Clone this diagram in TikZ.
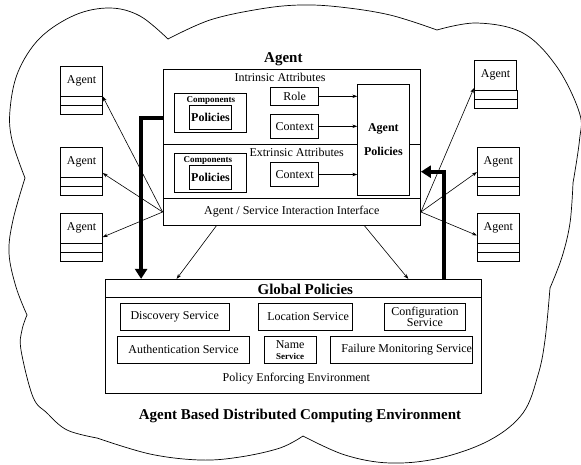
\documentclass[tikz,border=0pt]{standalone}
\usepackage{fontspec}
\setmainfont{Liberation Serif}
\usetikzlibrary{arrows.meta,calc}
\begin{document}
\begin{tikzpicture}[x=1pt,y=-1pt,
  reg/.style={font=\fontsize{12}{14}\selectfont},
  bld/.style={font=\fontsize{12}{14}\selectfont\bfseries},
  sbld/.style={font=\fontsize{9}{10}\selectfont\bfseries},
  big/.style={font=\fontsize{15}{17}\selectfont\bfseries},
  bx/.style={draw, line width=0.8pt, inner sep=0pt, fill=white},
  ln/.style={line width=0.8pt},
  cloudline/.style={line width=0.7pt},
  arr/.style={line width=0.6pt, -{Stealth[length=5pt,width=3.5pt]}},
  fat/.style={line width=4pt, -{Triangle[length=10pt,width=12pt]}}
]
\useasboundingbox (0,0) rectangle (581,464);

% cloud
\draw[cloudline] plot[smooth, tension=0.6] coordinates {(25,178) (12,140) (10,110) (18,72) (40,38) (75,15) (110,8) (140,16) (168,39)};
\draw[cloudline] plot[smooth, tension=0.6] coordinates {(168,39) (210,20) (260,9) (300,5) (340,7) (390,15) (437,30)};
\draw[cloudline] plot[smooth, tension=0.6] coordinates {(437,30) (477,23) (523,33) (557,67) (579.5,113) (579.5,140) (573,183)};
\draw[cloudline] plot[smooth, tension=0.6] coordinates {(573,183) (570,223) (562,257) (550,288)};
\draw[cloudline] plot[smooth, tension=0.6] coordinates {(550,288) (545,340) (538,375) (523,413) (490,440) (440,458) (390,463) (345,455) (303,436)};
\draw[cloudline] plot[smooth, tension=0.6] coordinates {(303,436) (280,448) (240,457) (200,460) (150,454) (97,438)};
\draw[cloudline] plot[smooth, tension=0.6] coordinates {(97,438) (67,430) (47,413) (33,397) (21,350) (22,330) (27,315)};
\draw[cloudline] plot[smooth, tension=0.6] coordinates {(27,315) (16,287) (9,253) (13,220) (25,178)};

% main agent
\node[big] (agtitle) at (283.4,59) {Agent};
\node[bx, minimum width=257.5pt, minimum height=75.3pt] (intr) at (291.75,106.65) {};
\node[bx, minimum width=257.5pt, minimum height=54.2pt] (extr) at (291.75,171.4) {};
\node[bx, minimum width=257.5pt, minimum height=27pt, reg] (iface) at (291.75,212) {Agent / Service Interaction Interface};
\node[reg] (intrlbl) at (280,77) {Intrinsic Attributes};
\node[reg] (extrlbl) at (296.7,152.7) {Extrinsic Attributes};

\node[bx, minimum width=72.4pt, minimum height=38.7pt] (comp1) at (210.5,112.65) {};
\node[sbld] (cl1) at (210.8,100.3) {Components};
\node[bx, minimum width=42.4pt, minimum height=24pt, bld] (pol1) at (210.5,117.3) {Policies};
\node[bx, minimum width=72.4pt, minimum height=39pt] (comp2) at (210.5,172.8) {};
\node[sbld] (cl2) at (207.8,160) {Components};
\node[bx, minimum width=42.4pt, minimum height=24pt, bld] (pol2) at (210.5,177.3) {Policies};

\node[bx, minimum width=48pt, minimum height=18pt, reg] (role) at (294.7,96.3) {Role};
\node[bx, minimum width=48pt, minimum height=24pt, reg] (ctx1) at (294.7,126.3) {Context};
\node[bx, minimum width=48pt, minimum height=24.4pt, reg] (ctx2) at (294.7,174.5) {Context};

\node[bx, minimum width=51.3pt, minimum height=111pt, bld, align=center] (ap) at (383.35,139.8) {Agent\\[10pt]Policies};

\draw[arr] (role.east) -- (role.east -| ap.west);
\draw[arr] (ctx1.east) -- (ctx1.east -| ap.west);
\draw[arr] (ctx2.east) -- (ctx2.east -| ap.west);

% other agents
\foreach \n/\cx/\cy/\w in {la1/81.5/81/41.6, la2/81.5/162.3/41.6, la3/81.5/228.3/41.6, ra1/495.5/75/42.4, ra2/498.3/162.3/42, ra3/498.3/228.3/42}{
  \node[bx, minimum width=\w pt, minimum height=30pt, reg] (\n) at (\cx,\cy) {Agent};
  \draw[ln] (\n.south west) rectangle ($(\n.south east)+(0,18)$);
  \draw[ln] ($(\n.south west)+(0,9)$) -- ($(\n.south east)+(0,9)$);
}

\draw[arr] (iface.west) -- (la1.south east);
\draw[arr] (iface.west) -- ($(la2.south east)+(0,-4.6)$);
\draw[arr] (iface.west) -- ($(la3.south east)+(0,-6.6)$);
\draw[arr] (iface.east) -- ($(ra1.south west)+(0,-2.3)$);
\draw[arr] (iface.east) -- ($(ra2.south west)+(0,-5.6)$);
\draw[arr] (iface.east) -- ($(ra3.south west)+(0,-8.3)$);

% global policies
\node[bx, minimum width=375.4pt, minimum height=114pt] (global) at (293.3,336.3) {};
\draw[ln] ($(global.north west)+(0,18)$) -- ($(global.north east)+(0,18)$);
\node[big] (gltitle) at (305.3,289.5) {Global Policies};
\node[bx, minimum width=108.6pt, minimum height=26.7pt, reg] (disc) at (174.7,316.65) {Discovery Service};
\node[bx, minimum width=93.8pt, minimum height=26.7pt, reg] (loc) at (305.1,316.65) {\hspace*{6pt}Location Service};
\node[bx, minimum width=81.5pt, minimum height=26.7pt, reg, align=center] (conf) at (424.95,316.65) {Configuration\\[-3pt]Service};
\node[bx, minimum width=132.2pt, minimum height=27.3pt, reg] (auth) at (183.6,349.65) {Authentication Service};
\node[bx, minimum width=51.8pt, minimum height=27.3pt, align=center] (name) at (290.1,349.65) {{\fontsize{12}{10}\selectfont Name}\\[-1pt]{\fontsize{9}{9}\selectfont\bfseries Service}};
\node[bx, minimum width=142.4pt, minimum height=27.3pt, reg] (fail) at (401.2,349.65) {\hspace*{11pt}Failure Monitoring Service};
\node[reg] (pee) at (296.4,378.5) {Policy Enforcing Environment};

\draw[arr] ($(iface.south west)+(53.7,0)$) -- ($(global.north west)+(71.4,0)$);
\draw[arr] ($(iface.south west)+(202,0)$) -- ($(global.north west)+(303.1,0)$);

\draw[fat] ($(intr.west)+(0,11.35)$) -| ($(global.north west)+(35.9,0)$);
\draw[fat] ($(global.north west)+(339,0)$) |- ($(extr.east)+(0,0.3)$);

\node[big] (envtitle) at (300,416) {Agent Based Distributed Computing Environment};
\end{tikzpicture}
\end{document}
